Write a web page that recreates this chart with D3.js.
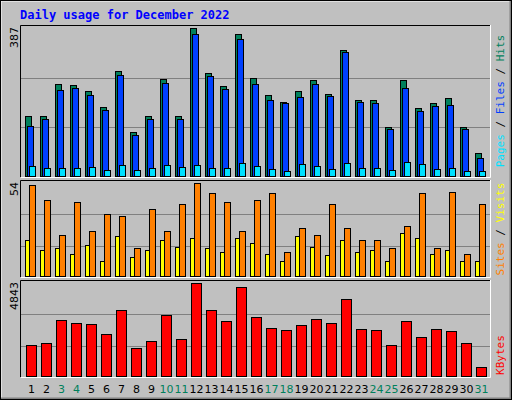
<!DOCTYPE html>
<html><head><meta charset="utf-8">
<script src="https://cdn.jsdelivr.net/npm/d3@7"></script>
<style>body{margin:0;background:#fff}</style>
</head><body><div id="chart"></div>
<script>
const days = d3.range(1, 32);
const weekend = [3, 4, 10, 11, 17, 18, 24, 25, 31];
const hits = [156,156,240,237,222,180,274,114,156,253,156,387,269,235,371,256,211,193,222,250,214,329,200,198,127,250,177,190,203,127,59];
const files = [130,148,224,229,211,172,264,106,148,243,148,371,261,227,358,240,198,190,206,240,208,324,193,190,122,229,169,182,185,122,48];
const pages = [25,20,20,20,23,15,28,15,20,28,23,28,20,20,33,25,18,12,31,25,18,33,20,20,15,36,31,18,20,12,12];
const sites = [21,15,16,13,18,9,23,11,15,21,17,22,16,14,22,19,13,9,23,17,12,21,14,15,9,25,22,13,15,9,9];
const visits = [53,44,24,43,26,36,35,16,39,26,42,54,48,43,26,44,48,14,28,24,42,28,21,21,16,29,48,16,49,13,42];
const kbytes = [1597,1703,2927,2767,2714,2182,3459,1437,1810,3193,1916,4843,3459,2874,4630,3087,2501,2395,2661,2980,2767,3991,2448,2395,1597,2874,2022,2448,2342,1703,479];

const W = 512, H = 400;
const svg = d3.select("#chart").append("svg").attr("width", W).attr("height", H)
  .style("font-family", "DejaVu Sans Mono, monospace");

// background with bevel
svg.append("rect").attr("width", W).attr("height", H).attr("fill", "#c0c0c0");
svg.append("path").attr("d", "M0.5,399.5V0.5H511.5").attr("stroke", "#fff").attr("stroke-width", 2).attr("fill", "none");
svg.append("path").attr("d", "M1,398.5H510.5V1").attr("stroke", "#808080").attr("stroke-width", 2).attr("fill", "none");
svg.append("rect").attr("x", 0.5).attr("y", 0.5).attr("width", 511).attr("height", 399).attr("fill", "none").attr("stroke", "#000");

svg.append("text").attr("x", 20).attr("y", 19).attr("fill", "#0000ff")
  .attr("font-weight", "bold").attr("font-size", 12).text("Daily usage for December 2022");

const x = d3.scaleBand().domain(days).range([21, 486]).paddingInner(0).paddingOuter(0);
const bx = d => x(d) + 4; // slot left

function panel(top, bottom, max, label) {
  svg.append("path").attr("d", `M20.5,${bottom}V${top}.5H491`).attr("stroke", "#000").attr("fill", "none");
  svg.append("path").attr("d", `M21,${bottom}.5H490.5V${top}`).attr("stroke", "#fff").attr("fill", "none");
  const y = d3.scaleLinear().domain([0, max]).range([bottom - 1, top + 3]);
  [1, 2].forEach(k => {
    const gy = Math.round(bottom - (bottom - top - 3) * k / 3) + 0.5;
    svg.append("line").attr("x1", 21).attr("x2", 490).attr("y1", gy).attr("y2", gy).attr("stroke", "#808080");
  });
  svg.append("text").attr("transform", `translate(18,${top + 2}) rotate(-90)`).attr("text-anchor", "end")
    .attr("font-family", "DejaVu Sans, sans-serif").attr("font-size", 11).text(label);
  return y;
}

function bars(y, vals, off, w, fill) {
  svg.append("g").selectAll("rect").data(vals).enter().append("rect")
    .attr("x", (v, i) => bx(days[i]) + off + 0.5)
    .attr("y", v => Math.round(y(v)) + 0.5)
    .attr("width", w).attr("height", v => Math.round(y(0)) - Math.round(y(v)))
    .attr("fill", fill).attr("stroke", "#000");
}

function sideLabel(yc, parts) {
  const t = svg.append("text").attr("transform", `translate(504,${yc}) rotate(-90)`).attr("text-anchor", "middle")
    .attr("font-size", 11);
  parts.forEach(p => t.append("tspan").attr("fill", p[1]).text(p[0]));
}

const y1 = panel(25, 177, 387, "387");
bars(y1, hits, 0, 6, "#00805c");
bars(y1, files, 2, 6, "#0040ff");
bars(y1, pages, 4, 6, "#00e0ff");
sideLabel(101, [["Pages", "#00e0ff"], [" / ", "#000"], ["Files", "#0040ff"], [" / ", "#000"], ["Hits", "#00805c"]]);

const y2 = panel(180, 277, 54, "54");
bars(y2, sites, 0, 4, "#ffff00");
bars(y2, visits, 4, 6, "#ff8000");
sideLabel(229, [["Sites", "#ff8000"], [" / ", "#000"], ["Visits", "#ffff00"]]);

const y3 = panel(280, 377, 4843, "4843");
bars(y3, kbytes, 1, 10, "#ff0000");
sideLabel(355, [["KBytes", "#ff0000"]]);

svg.append("g").selectAll("text").data(days).enter().append("text")
  .attr("x", d => bx(d) + 6.5).attr("y", 393).attr("text-anchor", "middle")
  .attr("font-family", "DejaVu Sans, sans-serif").attr("font-size", 11)
  .attr("fill", d => weekend.includes(d) ? "#00805c" : "#000").text(d => d);
</script></body></html>
